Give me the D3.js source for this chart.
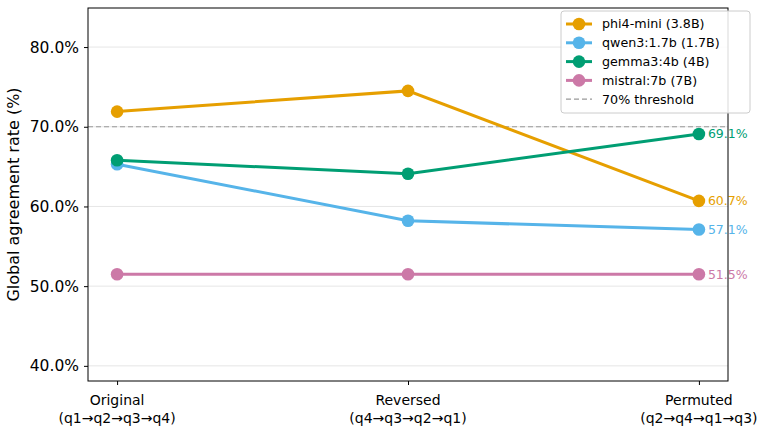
<!DOCTYPE html>
<html lang="en">
<head>
<meta charset="UTF-8">
<title>Global agreement rate</title>
<style>
    body { margin: 0; background: #fff; font-family: "DejaVu Sans", sans-serif; }
    svg text { font-family: "DejaVu Sans", sans-serif; }
</style>
</head>
<body>
<div id="chart"></div>
<script src="https://d3js.org/d3.v7.min.js"></script>
<script>
    const width = 763;
    const height = 431;
    const margin = { top: 8, right: 35, bottom: 50, left: 88 };

    const orders = ["Original", "Reversed", "Permuted"];
    const orderSeqs = ["(q1\u2192q2\u2192q3\u2192q4)", "(q4\u2192q3\u2192q2\u2192q1)", "(q2\u2192q4\u2192q1\u2192q3)"];
    const models = ["phi4-mini (3.8B)", "qwen3:1.7b (1.7B)", "gemma3:4b (4B)", "mistral:7b (7B)"];
    const colors = ["#E69F00", "#56B4E9", "#009E73", "#CC79A7"];
    const phi4 = [71.9, 74.5, 60.7];
    const qwen = [65.3, 58.2, 57.1];
    const gemma = [65.8, 64.1, 69.1];
    const mistral = [51.5, 51.5, 51.5];
    const yTicks = [40, 50, 60, 70, 80];
    const threshold = 70;

    const series = [phi4, qwen, gemma, mistral].map((vals, i) => ({
        name: models[i], color: colors[i], values: vals
    }));

    const svg = d3.select("#chart").append("svg")
        .attr("width", width)
        .attr("height", height);

    const x = d3.scaleLinear().domain([-0.1, 2.1]).range([margin.left, width - margin.right]);
    const y = d3.scaleLinear().domain([38.1, 84.9]).range([height - margin.bottom, margin.top]);

    // grid
    svg.append("g").selectAll("line")
        .data(yTicks)
        .enter().append("line")
        .attr("x1", margin.left).attr("x2", width - margin.right)
        .attr("y1", d => y(d)).attr("y2", d => y(d))
        .attr("stroke", "#e6e6e6").attr("stroke-width", 1);

    // threshold
    svg.append("line")
        .attr("x1", margin.left).attr("x2", width - margin.right)
        .attr("y1", y(threshold)).attr("y2", y(threshold))
        .attr("stroke", "#999").attr("stroke-width", 1.2)
        .attr("stroke-dasharray", "5,3");

    // axes
    const yAxis = svg.append("g")
        .attr("transform", `translate(${margin.left},0)`)
        .call(d3.axisLeft(y).tickValues(yTicks).tickFormat(d => d.toFixed(1) + "%").tickSize(4).tickPadding(5));
    yAxis.select(".domain").remove();
    yAxis.selectAll("text").attr("font-size", 15.5).attr("fill", "#000");
    yAxis.selectAll("line").attr("stroke", "#000");

    const xAxis = svg.append("g")
        .attr("transform", `translate(0,${height - margin.bottom})`)
        .call(d3.axisBottom(x).tickValues([0, 1, 2]).tickFormat("").tickSize(4));
    xAxis.select(".domain").remove();
    xAxis.selectAll("line").attr("stroke", "#000");

    const xl = svg.append("g");
    orders.forEach((o, i) => {
        const t = xl.append("text")
            .attr("x", x(i))
            .attr("y", height - margin.bottom + 24)
            .attr("text-anchor", "middle")
            .attr("font-size", 14);
        t.append("tspan").attr("x", x(i)).text(o);
        t.append("tspan").attr("x", x(i)).attr("dy", 17.5).text(orderSeqs[i]);
    });

    svg.append("text")
        .attr("transform", `translate(19,${(margin.top + height - margin.bottom) / 2}) rotate(-90)`)
        .attr("text-anchor", "middle")
        .attr("font-size", 16)
        .text("Global agreement rate (%)");

    // lines and points
    const line = d3.line().x((d, i) => x(i)).y(d => y(d));
    series.forEach(s => {
        svg.append("path")
            .datum(s.values)
            .attr("fill", "none")
            .attr("stroke", s.color)
            .attr("stroke-width", 3)
            .attr("d", line);
        svg.append("g").selectAll("circle")
            .data(s.values)
            .enter().append("circle")
            .attr("cx", (d, i) => x(i))
            .attr("cy", d => y(d))
            .attr("r", 6.3)
            .attr("fill", s.color);
        const last = s.values[s.values.length - 1];
        svg.append("text")
            .attr("x", x(2) + 9)
            .attr("y", y(last))
            .attr("dy", "0.35em")
            .attr("font-size", 12.5)
            .attr("fill", s.color)
            .text(last.toFixed(1) + "%");
    });

    // frame
    svg.append("rect")
        .attr("x", margin.left).attr("y", margin.top)
        .attr("width", width - margin.right - margin.left)
        .attr("height", height - margin.bottom - margin.top)
        .attr("fill", "none").attr("stroke", "#000").attr("stroke-width", 1);

    // legend
    const lg = svg.append("g").attr("transform", "translate(561,11)");
    lg.append("rect")
        .attr("width", 189).attr("height", 102).attr("rx", 3)
        .attr("fill", "#fff").attr("fill-opacity", 0.85)
        .attr("stroke", "#ccc");
    const items = series.map(s => ({ name: s.name, color: s.color, dashed: false }))
        .concat([{ name: "70% threshold", color: "#999", dashed: true }]);
    items.forEach((it, i) => {
        const yy = 13 + i * 18.8;
        lg.append("line")
            .attr("x1", 5).attr("x2", 31).attr("y1", yy).attr("y2", yy)
            .attr("stroke", it.color)
            .attr("stroke-width", it.dashed ? 1.2 : 3)
            .attr("stroke-dasharray", it.dashed ? "5,3" : null);
        if (!it.dashed) {
            lg.append("circle").attr("cx", 18).attr("cy", yy).attr("r", 6.3).attr("fill", it.color);
        }
        lg.append("text")
            .attr("x", 41).attr("y", yy).attr("dy", "0.35em")
            .attr("font-size", 12.7)
            .text(it.name);
    });
</script>
</body>
</html>
